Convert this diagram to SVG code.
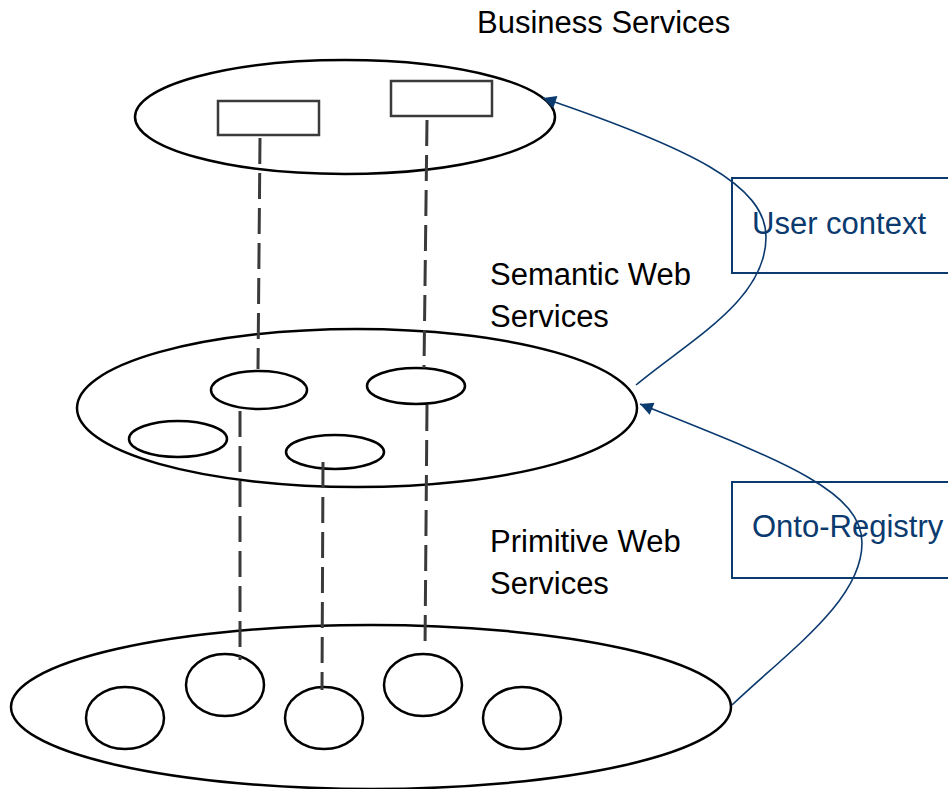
<svg xmlns="http://www.w3.org/2000/svg" width="948" height="789" viewBox="0 0 948 789">
  <defs>
    <style>
      .layer { fill: #ffffff; stroke: #000000; stroke-width: 2.5; }
      .svc { fill: #ffffff; stroke: #000000; stroke-width: 2.5; }
      .biz { fill: #ffffff; stroke: #3a3a3a; stroke-width: 2.5; }
      .link { fill: none; stroke: #3a3a3a; stroke-width: 3; stroke-dasharray: 26 9; }
      .flow { fill: none; stroke: #0b3a6f; stroke-width: 1.6; }
      .note { fill: #ffffff; stroke: #0b3a6f; stroke-width: 2; }
      .label { font-family: "Liberation Sans", Arial, sans-serif; font-size: 31px; fill: #000000; }
      .noteText { font-family: "Liberation Sans", Arial, sans-serif; font-size: 31px; fill: #0b3a6f; }
    </style>
    <marker id="arrowBig" viewBox="0 0 10 10" refX="10" refY="5" markerWidth="15" markerHeight="13" markerUnits="userSpaceOnUse" orient="auto">
      <path d="M0,0 L10,5 L0,10 z" fill="#0b3a6f"/>
    </marker>
  </defs>

  <!-- Business services layer -->
  <g id="business-layer">
    <ellipse class="layer" cx="345" cy="117" rx="210" ry="57"/>
    <rect id="biz-1" class="biz" x="218" y="101" width="101" height="34"/>
    <rect id="biz-2" class="biz" x="391" y="81" width="101" height="35"/>
    <text class="label" x="477" y="33">Business Services</text>
  </g>

  <!-- Semantic web services layer -->
  <g id="semantic-layer">
    <ellipse class="layer" cx="357" cy="408" rx="280" ry="79"/>
    <ellipse id="sws-a" class="svc" cx="259" cy="390" rx="48" ry="19"/>
    <ellipse id="sws-b" class="svc" cx="416" cy="386" rx="49" ry="18"/>
    <ellipse id="sws-c" class="svc" cx="178" cy="439" rx="49" ry="18"/>
    <ellipse id="sws-d" class="svc" cx="335" cy="452" rx="49" ry="17"/>
    <text class="label" x="490" y="285">Semantic Web</text>
    <text class="label" x="490" y="327">Services</text>
  </g>

  <!-- Primitive web services layer -->
  <g id="primitive-layer">
    <ellipse class="layer" cx="371" cy="707" rx="360" ry="82"/>
    <ellipse id="pws-1" class="svc" cx="125" cy="718" rx="39" ry="31"/>
    <ellipse id="pws-2" class="svc" cx="225" cy="685" rx="39" ry="31"/>
    <ellipse id="pws-3" class="svc" cx="324" cy="718" rx="39" ry="31"/>
    <ellipse id="pws-4" class="svc" cx="423" cy="685" rx="39" ry="31"/>
    <ellipse id="pws-5" class="svc" cx="522" cy="718" rx="39" ry="31"/>
    <text class="label" x="490" y="552">Primitive Web</text>
    <text class="label" x="490" y="594">Services</text>
  </g>

  <!-- Side notes -->
  <g id="user-context">
    <rect class="note" x="732" y="178" width="230" height="95"/>
    <text class="noteText" x="752" y="234">User context</text>
  </g>
  <g id="onto-registry">
    <rect class="note" x="732" y="482" width="230" height="96"/>
    <text class="noteText" x="752" y="537">Onto-Registry</text>
  </g>

  <!-- Connectors -->
  <g id="connectors">
    <path class="link" d="M260,138 L258,369"/>
    <path class="link" d="M427,120 L424,368"/>
    <path class="link" d="M240,411 L240,660"/>
    <path class="link" d="M323,462 L322,690"/>
    <path class="link" d="M427,405 L425,650"/>
    <path class="flow" marker-end="url(#arrowBig)" d="M636,385 C690,340 766,300 766,237 C766,185 690,148 543,98"/>
    <path class="flow" marker-end="url(#arrowBig)" d="M732,705 C790,650 862,600 862,543 C862,490 780,460 640,404"/>
  </g>
</svg>
